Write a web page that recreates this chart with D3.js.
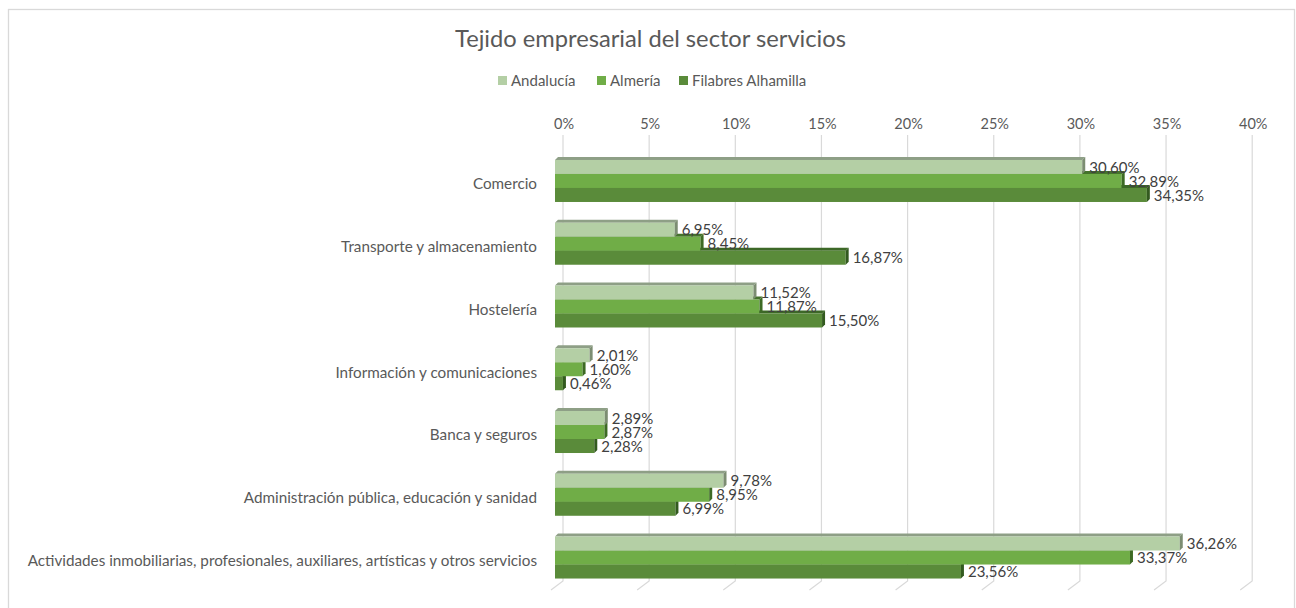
<!DOCTYPE html>
<html><head><meta charset="utf-8">
<script src="https://cdn.jsdelivr.net/npm/d3@7"></script>
<style>
body{margin:0;background:#fff;}
svg{display:block;}
text{font-family:Lato,"Open Sans",sans-serif;}
</style></head>
<body>
<svg id="c" width="1296" height="608"></svg>
<script>
const categories = [
  "Comercio",
  "Transporte y almacenamiento",
  "Hostelería",
  "Información y comunicaciones",
  "Banca y seguros",
  "Administración pública, educación y sanidad",
  "Actividades inmobiliarias, profesionales, auxiliares, artísticas y otros servicios"
];
const seriesNames = ["Andalucía", "Almería", "Filabres Alhamilla"];
const andalucia = [30.60, 6.95, 11.52, 2.01, 2.89, 9.78, 36.26];
const almeria   = [32.89, 8.45, 11.87, 1.60, 2.87, 8.95, 33.37];
const filabres  = [34.35, 16.87, 15.50, 0.46, 2.28, 6.99, 23.56];
const tickValues = [0, 5, 10, 15, 20, 25, 30, 35, 40];
const title = "Tejido empresarial del sector servicios";

const seriesValues = [andalucia, almeria, filabres];
const front = ["#b4cfa5", "#70ad47", "#5a8b3a"];
const topC  = ["#8e9f86", "#44722b", "#3d6827"];
const sideC = ["#7c8d72", "#3d6a24", "#335a1f"];

const svg = d3.select("#c");
svg.append("rect").attr("x",8.5).attr("y",9.5).attr("width",1286).attr("height",620)
  .attr("fill","none").attr("stroke","#d9d9d9").attr("stroke-width",1.3);

const x = d3.scaleLinear().domain([0,40]).range([555, 555 + 40*17.23]);
const y = d3.scaleBand().domain(categories).range([149.6, 588.9]).paddingInner(0.3307).paddingOuter(0.1653);
const ys = d3.scaleBand().domain(seriesNames).range([0, y.bandwidth()]);
const DX = 3, DY = 3, GX = 8;

function fitWidth(sel, target) {
  const w = sel.node().getComputedTextLength();
  const fs = parseFloat(sel.attr("font-size"));
  if (w > 0) sel.attr("font-size", fs * target / w);
}

// title
const t = svg.append("text").attr("x",650.5).attr("y",47).attr("text-anchor","middle")
  .attr("font-size",24).attr("fill","#595959").text(title);
fitWidth(t, 391);

// legend
const legX = [498, 597, 679];
const legW = [67, 51, 118];
seriesNames.forEach((s,i)=>{
  const g = svg.append("g");
  g.append("rect").attr("x",legX[i]).attr("y",76).attr("width",9).attr("height",9).attr("fill",front[i]);
  const lt = g.append("text").attr("x",legX[i]+13).attr("y",85.5).attr("font-size",15).attr("fill","#595959").text(s);
});

// gridlines
const gTop = 135, gBot = 581;
tickValues.forEach(tv=>{
  const gx = x(tv) + GX;
  svg.append("path").attr("d",`M${gx},${gTop}L${gx},${gBot}L${gx-12},${gBot+9}`)
    .attr("fill","none").attr("stroke","#d9d9d9").attr("stroke-width",1.2);
  svg.append("text").attr("x",gx+1).attr("y",129).attr("text-anchor","middle")
    .attr("font-size",14.5).attr("fill","#595959").text(tv+"%");
});

// category labels
const catG = svg.append("g");
categories.forEach(c=>{
  catG.append("text").attr("x",537).attr("y",y(c)+y.bandwidth()/2+3).attr("dy","0.35em")
    .attr("text-anchor","end").attr("font-size",13.5).attr("fill","#595959").text(c);
});

// bars (draw lowest series first)
const barsG = svg.append("g");
for (let si = seriesNames.length-1; si >= 0; si--) {
  categories.forEach((c,ci)=>{
    const v = seriesValues[si][ci];
    const y0 = y(c) + ys(seriesNames[si]);
    const h = ys.bandwidth();
    const x0 = x(0), x1 = x(v);
    barsG.append("path").attr("d",`M${x0},${y0}L${x0+DX},${y0-DY}L${x1+DX},${y0-DY}L${x1},${y0}Z`).attr("fill",topC[si]);
    barsG.append("rect").attr("x",x0).attr("y",y0).attr("width",x1-x0).attr("height",h).attr("fill",front[si]);
    barsG.append("path").attr("d",`M${x1},${y0}L${x1+DX},${y0-DY}L${x1+DX},${y0+h-DY}L${x1},${y0+h}Z`).attr("fill",sideC[si]);
  });
}

// data labels
const fmt = v => v.toFixed(2).replace(".", ",") + "%";
seriesNames.forEach((s,si)=>{
  categories.forEach((c,ci)=>{
    const v = seriesValues[si][ci];
    svg.append("text").attr("x",x(v)+7).attr("y",y(c)+ys(s)+ys.bandwidth()/2).attr("dy","0.38em")
      .attr("font-size",15).attr("fill","#404040").text(fmt(v));
  });
});

// fit longest category label to reference width
const longest = catG.selectAll("text").nodes().reduce((a,n)=>Math.max(a,n.getComputedTextLength()),0);
if (longest > 0) {
  const fs = 13.5 * 510 / longest;
  catG.selectAll("text").attr("font-size", fs);
}
</script>
</body></html>
